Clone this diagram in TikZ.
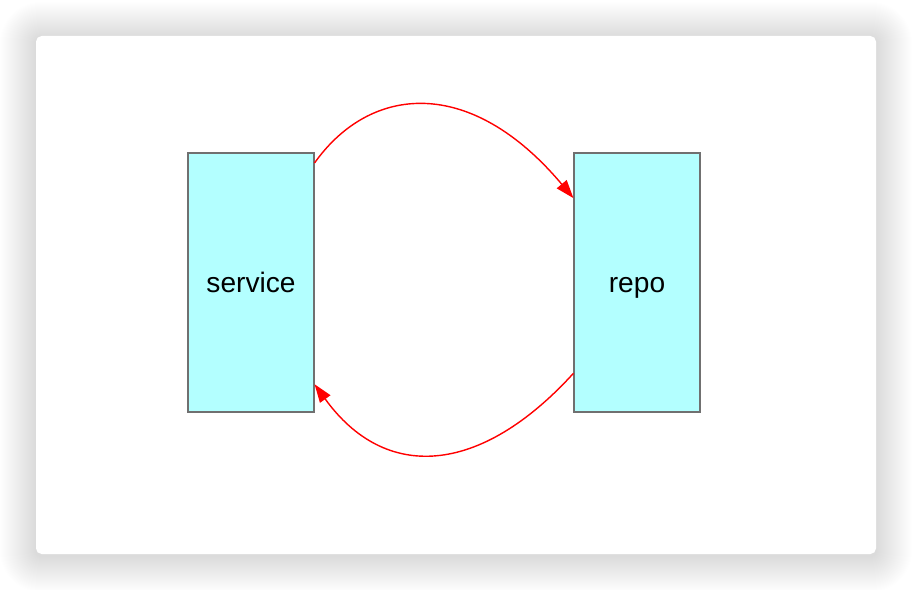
\documentclass[tikz,border=0pt]{standalone}
\usepackage{xcolor}
\usepackage{tikz}
\usepackage{fontspec}
\setmainfont{Liberation Sans}
\usetikzlibrary{arrows.meta, positioning, calc}
\definecolor{boxcyan}{HTML}{B3FFFF}
\definecolor{boxgray}{HTML}{707070}
\definecolor{callred}{HTML}{FF0000}

\begin{document}
\begin{tikzpicture}[x=0.025cm, y=-0.025cm,
    layerbox/.style={draw=boxgray, fill=boxcyan, line width=0.8pt,
      minimum width=126*0.025cm, minimum height=259*0.025cm,
      inner sep=0pt, text height=2.8ex, text depth=0pt,
      font=\fontsize{20}{24}\selectfont},
    callarrow/.style={callred, line width=1pt, -{Triangle[length=13pt,width=9pt]}}]
    \useasboundingbox (0,0) rectangle (912,590);
    % window shadow and card
    \foreach \s in {36,35,...,1}
      \fill[black, opacity=0.005, rounded corners=\s*0.7pt+4pt] (36-\s,38-\s) rectangle (876+\s,556+\s);
    \fill[white, rounded corners=4pt] (36,36) rectangle (876,554);
    % the two layers
    \node[layerbox] (service) at (251,282.5) {service};
    \node[layerbox] (repo) at (637,282.5) {repo};
    % calls between them
    \draw[callarrow] (service.62.4) .. controls (370,85) and (470,75) .. (repo.127);
    \draw[callarrow] (repo.235.5) .. controls (480,476) and (385,482) .. (service.302.1);
  \end{tikzpicture}
\end{document}
